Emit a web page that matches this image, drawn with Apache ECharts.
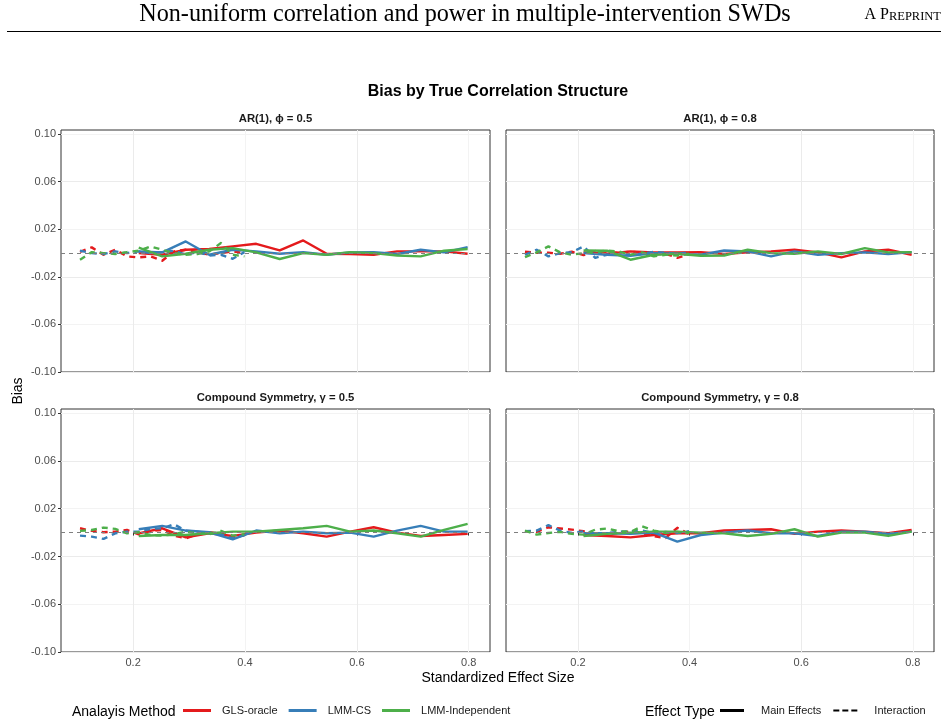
<!DOCTYPE html>
<html><head><meta charset="utf-8">
<script src="https://cdn.jsdelivr.net/npm/echarts@6/dist/echarts.min.js"></script>
<style>html,body{margin:0;padding:0;background:#fff}#c{width:948px;height:727px}</style>
</head><body><div id="c"></div>
<script>
// ---------- data ----------
const effectSizeMain = [0.21, 0.252, 0.294, 0.336, 0.378, 0.42, 0.462, 0.504, 0.546, 0.588, 0.63, 0.672, 0.714, 0.756, 0.798];
const effectSizeInteraction = [0.105, 0.126, 0.147, 0.168, 0.189, 0.21, 0.231, 0.252, 0.273, 0.294, 0.315, 0.336, 0.357, 0.378, 0.399];
const panelTitles = ['AR(1), \u03D5 = 0.5', 'AR(1), \u03D5 = 0.8', 'Compound Symmetry, \u03B3 = 0.5', 'Compound Symmetry, \u03B3 = 0.8'];
const methods = ['GLS-oracle', 'LMM-CS', 'LMM-Independent'];
const effectTypes = ['Main Effects', 'Interaction'];
const yTickValues = [-0.10, -0.06, -0.02, 0.02, 0.06, 0.10];
const xTickValues = [0.2, 0.4, 0.6, 0.8];

// AR(1), phi = 0.5
const ar05_gls_main = [0.0000, -0.0014, 0.0028, 0.0034, 0.0056, 0.0078, 0.0022, 0.0106, -0.0006, -0.0008, -0.0014, 0.0014, 0.0014, 0.0014, -0.0006];
const ar05_cs_main = [0.0014, 0.0006, 0.0098, -0.0014, 0.0028, 0.0014, -0.0006, 0.0008, -0.0014, 0.0006, 0.0008, -0.0008, 0.0028, 0.0006, 0.0050];
const ar05_ind_main = [0.0045, -0.0028, -0.0006, 0.0028, 0.0042, 0.0006, -0.0050, 0.0000, -0.0014, 0.0008, 0.0000, -0.0020, -0.0028, 0.0020, 0.0034];
const ar05_gls_int = [0.0010, 0.0048, -0.0014, 0.0028, -0.0028, -0.0036, -0.0028, -0.0064, 0.0014, 0.0028, 0.0008, -0.0014, 0.0000, 0.0014, 0.0000];
const ar05_cs_int = [0.0020, 0.0000, -0.0008, 0.0014, 0.0000, 0.0014, 0.0000, 0.0008, 0.0020, -0.0014, 0.0008, -0.0020, -0.0014, -0.0048, 0.0008];
const ar05_ind_int = [-0.0056, 0.0008, 0.0000, -0.0008, 0.0008, 0.0020, 0.0056, 0.0028, 0.0000, -0.0014, -0.0008, 0.0014, 0.0084, -0.0014, -0.0028];

// AR(1), phi = 0.8
const ar08_gls_main = [0.0006, -0.0006, 0.0014, 0.0006, 0.0006, 0.0008, -0.0008, 0.0006, 0.0014, 0.0028, 0.0006, -0.0036, 0.0014, 0.0028, -0.0014];
const ar08_cs_main = [0.0000, -0.0014, -0.0022, 0.0000, -0.0006, -0.0014, 0.0022, 0.0014, -0.0028, 0.0014, -0.0014, 0.0000, 0.0006, -0.0008, 0.0008];
const ar08_ind_main = [0.0022, 0.0020, -0.0056, -0.0014, -0.0006, -0.0022, -0.0020, 0.0028, 0.0000, -0.0006, 0.0014, -0.0008, 0.0042, 0.0006, 0.0008];
const ar08_gls_int = [0.0011, 0.0003, 0.0003, -0.0006, 0.0011, -0.0017, 0.0017, 0.0011, 0.0003, 0.0011, 0.0003, -0.0011, -0.0006, -0.0040, -0.0011];
const ar08_cs_int = [-0.0014, 0.0028, -0.0028, 0.0000, 0.0008, 0.0056, -0.0040, -0.0014, -0.0011, -0.0017, -0.0006, 0.0011, 0.0003, -0.0006, 0.0003];
const ar08_ind_int = [-0.0034, 0.0006, 0.0056, 0.0006, -0.0014, 0.0000, 0.0006, 0.0022, 0.0014, -0.0014, 0.0006, -0.0028, -0.0014, -0.0020, -0.0006];

// Compound symmetry, gamma = 0.5
const cs05_gls_main = [-0.0006, 0.0036, -0.0040, -0.0006, -0.0028, 0.0000, 0.0017, -0.0006, -0.0034, 0.0008, 0.0045, 0.0000, -0.0028, -0.0020, -0.0011];
const cs05_cs_main = [0.0028, 0.0056, 0.0017, 0.0003, -0.0056, 0.0017, -0.0006, 0.0008, -0.0006, 0.0000, -0.0034, 0.0017, 0.0056, 0.0008, 0.0008];
const cs05_ind_main = [-0.0028, -0.0020, -0.0020, -0.0006, 0.0008, 0.0008, 0.0022, 0.0036, 0.0056, 0.0008, 0.0017, -0.0006, -0.0034, 0.0022, 0.0073];
const cs05_gls_int = [0.0036, 0.0014, 0.0003, 0.0008, 0.0022, -0.0014, 0.0014, 0.0022, -0.0025, -0.0048, -0.0014, 0.0003, -0.0006, -0.0042, -0.0020];
const cs05_cs_int = [-0.0025, -0.0034, -0.0053, -0.0006, 0.0008, 0.0008, 0.0031, 0.0036, 0.0070, 0.0014, 0.0008, -0.0006, -0.0014, -0.0048, -0.0020];
const cs05_ind_int = [0.0014, 0.0022, 0.0042, 0.0031, -0.0006, 0.0003, -0.0020, -0.0025, -0.0014, 0.0008, -0.0006, -0.0014, 0.0014, -0.0025, -0.0014];

// Compound symmetry, gamma = 0.8
const cs08_gls_main = [-0.0020, -0.0028, -0.0040, -0.0020, -0.0006, -0.0006, 0.0017, 0.0022, 0.0028, -0.0011, 0.0008, 0.0017, 0.0008, -0.0006, 0.0022];
const cs08_cs_main = [-0.0006, -0.0006, -0.0011, 0.0000, -0.0076, -0.0020, 0.0000, 0.0017, -0.0006, -0.0006, -0.0028, 0.0008, 0.0008, -0.0011, 0.0008];
const cs08_ind_main = [-0.0028, -0.0011, 0.0000, 0.0008, 0.0008, 0.0000, -0.0006, -0.0028, -0.0011, 0.0028, -0.0034, 0.0000, 0.0000, -0.0028, 0.0008];
const cs08_gls_int = [0.0011, 0.0006, 0.0045, 0.0034, 0.0025, 0.0011, -0.0011, -0.0017, -0.0003, 0.0011, -0.0003, -0.0031, -0.0045, 0.0040, -0.0011];
const cs08_cs_int = [0.0011, 0.0017, 0.0062, 0.0017, -0.0003, 0.0011, -0.0011, -0.0003, 0.0006, 0.0011, 0.0017, -0.0003, 0.0006, -0.0003, 0.0011];
const cs08_ind_int = [0.0017, -0.0017, -0.0003, 0.0006, -0.0011, -0.0017, 0.0025, 0.0034, 0.0011, 0.0006, 0.0053, 0.0017, -0.0003, 0.0006, -0.0003];

const panelData = [
  [[ar05_gls_main, ar05_gls_int], [ar05_cs_main, ar05_cs_int], [ar05_ind_main, ar05_ind_int]],
  [[ar08_gls_main, ar08_gls_int], [ar08_cs_main, ar08_cs_int], [ar08_ind_main, ar08_ind_int]],
  [[cs05_gls_main, cs05_gls_int], [cs05_cs_main, cs05_cs_int], [cs05_ind_main, cs05_ind_int]],
  [[cs08_gls_main, cs08_gls_int], [cs08_cs_main, cs08_cs_int], [cs08_ind_main, cs08_ind_int]]
];

// ---------- styling ----------
const methodColors = ['#E41A1C', '#377EB8', '#4DAF4A'];
const SANS = 'Liberation Sans, Arial, Helvetica, sans-serif';
const SERIF = 'Liberation Serif, Times New Roman, serif';
const grids = [
  {left: 61, top: 130, width: 429, height: 242},
  {left: 506, top: 130, width: 428, height: 242},
  {left: 61, top: 409, width: 429, height: 243},
  {left: 506, top: 409, width: 428, height: 243}
];
const stripCenters = [[275.5, 119], [720, 119], [275.5, 398], [720, 398]];

const chart = echarts.init(document.getElementById('c'), null, {renderer: 'canvas'});

const gridOpts = grids.map(g => Object.assign({show: true, borderColor: '#333333', borderWidth: 1, backgroundColor: '#fff', containLabel: false}, g));

const xAxes = grids.map((g, i) => {
  const bottom = i >= 2;
  return {
    type: 'value', gridIndex: i, min: 0.071, max: 0.838, splitNumber: 8,
    axisLine: {show: false},
    axisTick: {show: bottom, length: 3, customValues: xTickValues, lineStyle: {color: '#333333', width: 1}},
    axisLabel: {show: bottom, customValues: xTickValues, margin: 5, color: '#4d4d4d', fontSize: 11, fontFamily: SANS,
      formatter: v => v.toFixed(1)},
    splitLine: {show: true, lineStyle: {color: ['#ebebeb', '#f3f3f3'], width: 1}}
  };
});
const yAxes = grids.map((g, i) => {
  const left = i % 2 === 0;
  return {
    type: 'value', gridIndex: i, min: -0.10, max: 0.1035, interval: 0.02,
    axisLine: {show: false},
    axisTick: {show: left, length: 3, customValues: yTickValues, lineStyle: {color: '#333333', width: 1}},
    axisLabel: {show: left, customValues: yTickValues, margin: 5, color: '#4d4d4d', fontSize: 11, fontFamily: SANS,
      formatter: v => v.toFixed(2)},
    splitLine: {show: true, lineStyle: {color: ['#ebebeb', '#f3f3f3'], width: 1}}
  };
});

const series = [];
panelData.forEach((panel, p) => {
  panel.forEach((pair, m) => {
    pair.forEach((vals, t) => {
      const xs = t === 0 ? effectSizeMain : effectSizeInteraction;
      series.push({
        name: methods[m], type: 'line', xAxisIndex: p, yAxisIndex: p,
        data: xs.map((x, k) => [x, vals[k]]),
        symbol: 'none', showSymbol: false, silent: true, z: 3,
        color: methodColors[m],
        lineStyle: {color: methodColors[m], width: 2.4, type: t === 0 ? 'solid' : [6, 5], cap: 'butt', join: 'round'},
        emphasis: {disabled: true}
      });
    });
  });
  series.push({
    type: 'line', xAxisIndex: p, yAxisIndex: p, data: [], silent: true, z: 4,
    markLine: {silent: true, symbol: 'none', animation: false, label: {show: false},
      lineStyle: {color: '#7f7f7f', width: 1, type: [4, 4]},
      emphasis: {disabled: true}, data: [{yAxis: 0}]}
  });
});
// legend-only series for effect type
effectTypes.forEach((et, t) => {
  series.push({name: et, type: 'line', xAxisIndex: 0, yAxisIndex: 0, data: [], color: '#000',
    lineStyle: {color: '#000', width: 2.4, type: t === 0 ? 'solid' : [6, 5]}});
});

const titles = [
  {text: 'Non-uniform correlation and power in multiple-intervention SWDs', left: 465, top: 15,
    textStyle: {fontFamily: SERIF, fontSize: 24.2, fontWeight: 'normal', color: '#000'}},
  {text: '{a|A P}{b|REPRINT}', left: 941, top: 15, textAlign: 'right',
    textStyle: {fontWeight: 'normal',
      rich: {a: {fontFamily: SERIF, fontSize: 16, fontWeight: 'normal', color: '#000', verticalAlign: 'bottom'},
             b: {fontFamily: SERIF, fontSize: 12.5, fontWeight: 'normal', color: '#000', verticalAlign: 'bottom'}}}},
  {text: 'Bias by True Correlation Structure', left: 498, top: 92,
    textStyle: {fontFamily: SANS, fontSize: 16, fontWeight: 'bold', color: '#000'}},
  {text: 'Standardized Effect Size', left: 498, top: 678,
    textStyle: {fontFamily: SANS, fontSize: 14, fontWeight: 'normal', color: '#000'}},
  {text: 'Analayis Method', left: 72, top: 712, textAlign: 'left',
    textStyle: {fontFamily: SANS, fontSize: 14, fontWeight: 'normal', color: '#000'}},
  {text: 'Effect Type', left: 645, top: 712, textAlign: 'left',
    textStyle: {fontFamily: SANS, fontSize: 14, fontWeight: 'normal', color: '#000'}}
].concat(panelTitles.map((t, i) => ({text: t, left: stripCenters[i][0], top: stripCenters[i][1],
    textStyle: {fontFamily: SANS, fontSize: 11.3, fontWeight: 'bold', color: '#1a1a1a'}})));
titles.forEach(t => {
  t.padding = 0;
  if (!t.textAlign) t.textAlign = 'center';
  t.textVerticalAlign = 'middle';
});

const option = {
  animation: false,
  backgroundColor: '#ffffff',
  title: titles,
  grid: gridOpts,
  xAxis: xAxes,
  yAxis: yAxes,
  legend: [
    {data: methods, left: 183, top: 705, padding: 0, itemWidth: 28, itemHeight: 3, itemGap: 11, icon: 'rect',
      selectedMode: false, textStyle: {fontFamily: SANS, fontSize: 11, color: '#1a1a1a', padding: [0, 0, 0, 6]}},
    {data: [{name: 'Main Effects', icon: 'rect'},
            {name: 'Interaction', icon: 'path://M0,0h6v2h-6z M9,0h6v2h-6z M18,0h6v2h-6z'}],
      left: 720, top: 705, padding: 0, itemWidth: 24, itemHeight: 3, itemGap: 12,
      selectedMode: false, textStyle: {fontFamily: SANS, fontSize: 11, color: '#1a1a1a', padding: [0, 0, 0, 12]}}
  ],
  graphic: [
    {type: 'line', shape: {x1: 7, y1: 31.5, x2: 941, y2: 31.5}, style: {stroke: '#000', lineWidth: 1}, silent: true},
    {type: 'text', x: 18, y: 391, rotation: Math.PI / 2, silent: true,
      style: {text: 'Bias', font: '14px ' + SANS, fill: '#000', textAlign: 'center', textVerticalAlign: 'middle'}}
  ],
  series: series
};
chart.setOption(option);
</script>
</body></html>
